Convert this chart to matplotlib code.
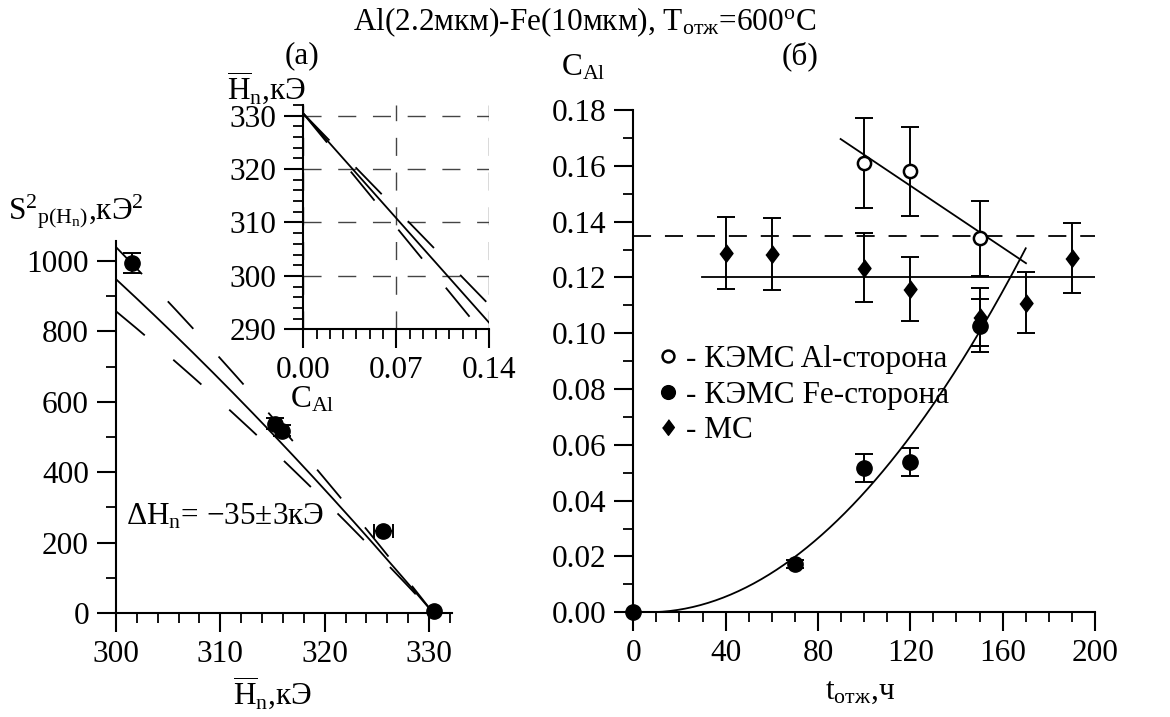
import numpy as np
import matplotlib
matplotlib.use("Agg")
import matplotlib.pyplot as plt
from matplotlib.ticker import MultipleLocator, FormatStrFormatter

plt.rcParams['font.family'] = ['Liberation Serif', 'DejaVu Serif']
plt.rcParams['mathtext.fontset'] = 'custom'
plt.rcParams['mathtext.rm'] = 'Liberation Serif'
plt.rcParams['mathtext.it'] = 'Liberation Serif:italic'
plt.rcParams['font.size'] = 22.5
plt.rcParams['lines.scale_dashes'] = False

# (a) S^2 vs mean Hn
hn_vals = [301.5, 315.2, 315.9, 325.6, 330.5]
s2_vals = [995, 538, 518, 234, 7]
s2_err = [28, 15, 15, 0, 0]
hn_err = [0, 0, 0, 0.9, 0]
h0 = 330.4          # Hn at C_Al = 0
n_neigh = 8
dh_fit = -35        # kOe
dh_band = 3

# (б) C_Al vs annealing time
t_al = [100, 120, 150]
c_al = [0.161, 0.158, 0.134]
c_al_err = [0.016, 0.016, 0.0135]

t_fe = [0, 70, 100, 120, 150]
c_fe = [0.0, 0.0173, 0.0516, 0.054, 0.1026]
c_fe_err = [0, 0.0015, 0.005, 0.005, 0.0095]

t_ms = [40, 60, 100, 120, 150, 170, 190]
c_ms = [0.1287, 0.1284, 0.1235, 0.1158, 0.1058, 0.111, 0.1269]
c_ms_err = [0.013, 0.0128, 0.0123, 0.0115, 0.0105, 0.011, 0.0126]

al_line_t = [89.8, 170.1]
al_line_c = [0.1696, 0.1251]
ms_mean_t = [29.6, 200]
ms_mean_c = [0.12, 0.12]
c_ref = 0.135
fe_a, fe_t0, fe_tend = 4.85e-6, 6.0, 170.0

W, H = 1170, 717
fig = plt.figure(figsize=(W / 100, H / 100), dpi=100)


def px(x0, y0, x1, y1):
    return [x0 / W, 1 - y1 / H, (x1 - x0) / W, (y1 - y0) / H]


def style(ax):
    for s in ['top', 'right']:
        ax.spines[s].set_visible(False)
    for s in ['left', 'bottom']:
        ax.spines[s].set_linewidth(1.5)
    ax.tick_params(which='major', direction='out', length=13.5, width=1.5, pad=6)
    ax.tick_params(which='minor', direction='out', length=7, width=1.3)
    ax.patch.set_alpha(0)


long_dash = (0, (27, 27))
mk_d = [(0, 1), (0.75, 0), (0, -1), (-0.75, 0)]

# ---- left panel
ax1 = fig.add_axes(px(116, 241, 452, 613))
style(ax1)
hh = np.linspace(300, h0, 300)
for dh, ls in [(dh_fit, '-'), (dh_fit - dh_band, long_dash), (dh_fit + dh_band, long_dash)]:
    s2 = dh * (hh - h0) - (hh - h0) ** 2 / n_neigh
    ax1.plot(hh, s2, color='k', lw=1.3, linestyle=ls)
ax1.errorbar(hn_vals[:3], s2_vals[:3], yerr=s2_err[:3], fmt='o', color='k',
             ms=11, capsize=6.8, elinewidth=1.4, capthick=1.4)
ax1.errorbar(hn_vals[3:4], s2_vals[3:4], xerr=hn_err[3:4], fmt='o', color='k',
             ms=11, capsize=4.8, elinewidth=1.4, capthick=1.4)
ax1.plot(hn_vals[4:], s2_vals[4:], 'o', color='k', ms=11, clip_on=False)
ax1.set_xlim(300, 332.2)
ax1.set_ylim(0, 1057)
ax1.xaxis.set_major_locator(MultipleLocator(10))
ax1.xaxis.set_minor_locator(MultipleLocator(2))
ax1.yaxis.set_major_locator(MultipleLocator(200))
ax1.yaxis.set_minor_locator(MultipleLocator(100))
ax1.text(301.0, 273, 'ΔH$_\\mathrm{n}$= −35±3кЭ', va='center', ha='left')

# ---- inset
axi = fig.add_axes(px(303.3, 105, 489.3, 329.3))
style(axi)
cc = np.linspace(0, 0.14, 100)
for dh, ls in [(dh_fit, '-'), (dh_fit - dh_band, long_dash), (dh_fit + dh_band, long_dash)]:
    axi.plot(cc, h0 + n_neigh * dh * cc, color='k', lw=1.3, linestyle=ls)
axi.set_xlim(0, 0.14)
axi.set_ylim(290, 332)
axi.xaxis.set_major_locator(MultipleLocator(0.07))
axi.xaxis.set_minor_locator(MultipleLocator(0.01))
axi.xaxis.set_major_formatter(FormatStrFormatter('%.2f'))
axi.yaxis.set_major_locator(MultipleLocator(10))
axi.yaxis.set_minor_locator(MultipleLocator(2))
axi.grid(True, which='major', color='#444444', lw=1.0, linestyle=(0, (13, 12)))

# ---- right panel
ax2 = fig.add_axes(px(633.3, 110, 1095, 612.3))
style(ax2)
ax2.plot(al_line_t, al_line_c, color='k', lw=1.3)
ax2.plot(ms_mean_t, ms_mean_c, color='k', lw=1.3)
ax2.plot([0, 200], [c_ref, c_ref], color='k', lw=1.3, linestyle=(0, (13, 10)))
tt = np.linspace(fe_t0, fe_tend, 200)
ax2.plot(tt, fe_a * (tt - fe_t0) ** 2, color='k', lw=1.3)
ax2.errorbar(t_ms, c_ms, yerr=c_ms_err, fmt='none', ecolor='k',
             capsize=6.6, elinewidth=1.4, capthick=1.4)
l_ms, = ax2.plot(t_ms, c_ms, linestyle='none', marker=mk_d, ms=12.5, color='k')
ax2.errorbar(t_al, c_al, yerr=c_al_err, fmt='none', ecolor='k',
             capsize=6.6, elinewidth=1.4, capthick=1.4)
l_al, = ax2.plot(t_al, c_al, linestyle='none', marker='o', ms=9.5, mfc='white',
                 mec='k', mew=1.8)
ax2.errorbar(t_fe, c_fe, yerr=c_fe_err, fmt='none', ecolor='k',
             capsize=6.6, elinewidth=1.4, capthick=1.4)
l_fe, = ax2.plot(t_fe, c_fe, linestyle='none', marker='o', ms=11, color='k',
                 clip_on=False, zorder=5)
ax2.set_xlim(0, 200)
ax2.set_ylim(0, 0.18)
ax2.xaxis.set_major_locator(MultipleLocator(40))
ax2.xaxis.set_minor_locator(MultipleLocator(10))
ax2.yaxis.set_major_locator(MultipleLocator(0.02))
ax2.yaxis.set_minor_locator(MultipleLocator(0.01))
ax2.yaxis.set_major_formatter(FormatStrFormatter('%.2f'))
ax2.legend([l_al, l_fe, l_ms], ['- КЭМС Al-сторона', '- КЭМС Fe-сторона', '- МС'],
           loc='center left', bbox_to_anchor=(0.05, 0.4326), borderaxespad=0,
           borderpad=0, frameon=False, handlelength=0.75, handletextpad=0.2,
           labelspacing=0.2, markerscale=0.9)

# ---- texts
def ftext(x, y, s, **kw):
    fig.text(x / W, 1 - y / H, s, ha='center', va='center', **kw)


ftext(585, 22, 'Al(2.2мкм)-Fe(10мкм), T$_\\mathrm{отж}$=600$^\\mathrm{o}$C')
ftext(302, 56, '(a)')
ftext(800, 56, '(б)')
ftext(266, 88, '$\\overline{\\mathrm{H}}_\\mathrm{n}$,кЭ')
ftext(76, 212, 'S$^2$$_\\mathrm{p(H_n)}$,кЭ$^2$')
ftext(583, 68, 'C$_\\mathrm{Al}$')
ftext(312, 400, 'C$_\\mathrm{Al}$')
ftext(272, 693, '$\\overline{\\mathrm{H}}_\\mathrm{n}$,кЭ')
ftext(860, 692, 't$_\\mathrm{отж}$,ч')

fig.savefig('out.png', dpi=100)
